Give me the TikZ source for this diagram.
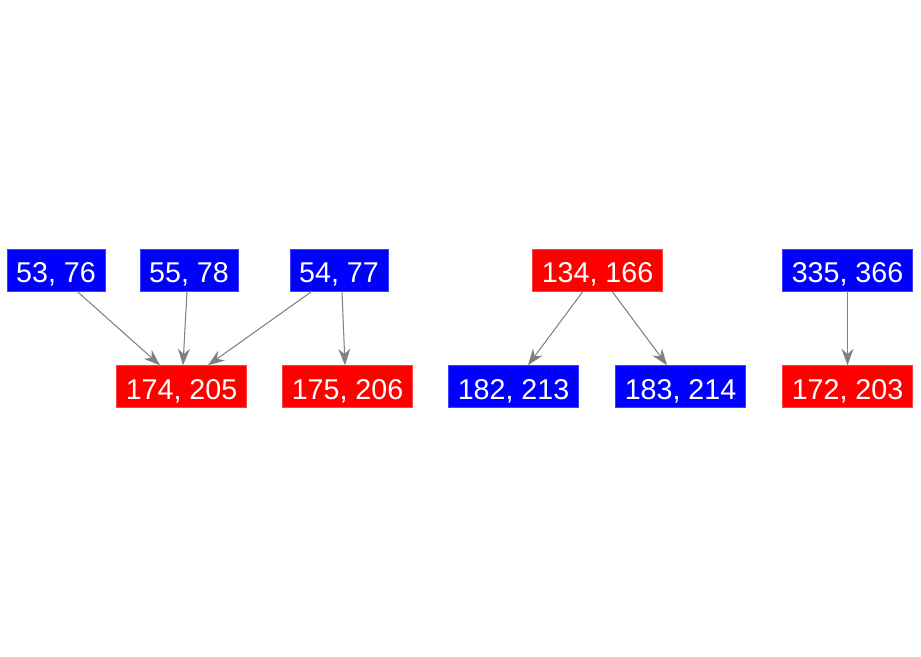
\documentclass[tikz,border=0pt]{standalone}
\usepackage{fontspec}
\setmainfont{Liberation Sans}
\usetikzlibrary{arrows.meta, positioning}

\tikzset{
  bluebox/.style={draw=blue!75!white, line width=0.3pt, fill=blue, text=white, minimum height=0.84cm, text height=0.51cm, text depth=0pt, inner xsep=0.185cm, font=\fontsize{16.3}{19}\selectfont},
  redbox/.style={draw=red!75!white, line width=0.3pt, fill=red, text=white, minimum height=0.84cm, text height=0.51cm, text depth=0pt, inner xsep=0.185cm, font=\fontsize{16.3}{19}\selectfont},
  link/.style={draw=gray, line width=0.6pt, -{Stealth[length=3.3mm, width=2.4mm]}}
}

\begin{document}
\begin{tikzpicture}
            \useasboundingbox (0,0) rectangle (18.42,-13.12);

            % top row
            \node[bluebox] (n5376) at (1.12, -5.40) {53, 76};
            \node[bluebox] (n5578) at (3.78, -5.40) {55, 78};
            \node[bluebox] (n5477) at (6.78, -5.40) {54, 77};
            \node[redbox] (n134) at (11.95, -5.40) {134, 166};
            \node[bluebox] (n335) at (16.95, -5.40) {335, 366};

            % bottom row
            \node[redbox] (n174) at (3.63, -7.73) {174, 205};
            \node[redbox] (n175) at (6.95, -7.73) {175, 206};
            \node[bluebox] (n182) at (10.27, -7.73) {182, 213};
            \node[bluebox] (n183) at (13.61, -7.73) {183, 214};
            \node[redbox] (n172) at (16.95, -7.73) {172, 203};

            \draw[link] ([xshift=0.42cm]n5376.south) -- ([xshift=-0.43cm]n174.north);
            \draw[link] ([xshift=-0.04cm]n5578.south) -- ([xshift=0.03cm]n174.north);
            \draw[link] ([xshift=-0.54cm]n5477.south) -- ([xshift=0.53cm]n174.north);
            \draw[link] ([xshift=0.06cm]n5477.south) -- ([xshift=-0.05cm]n175.north);
            \draw[link] ([xshift=-0.29cm]n134.south) -- ([xshift=0.29cm]n182.north);
            \draw[link] ([xshift=0.29cm]n134.south) -- ([xshift=-0.27cm]n183.north);
            \draw[link] (n335.south) -- (n172.north);
        \end{tikzpicture}
\end{document}
